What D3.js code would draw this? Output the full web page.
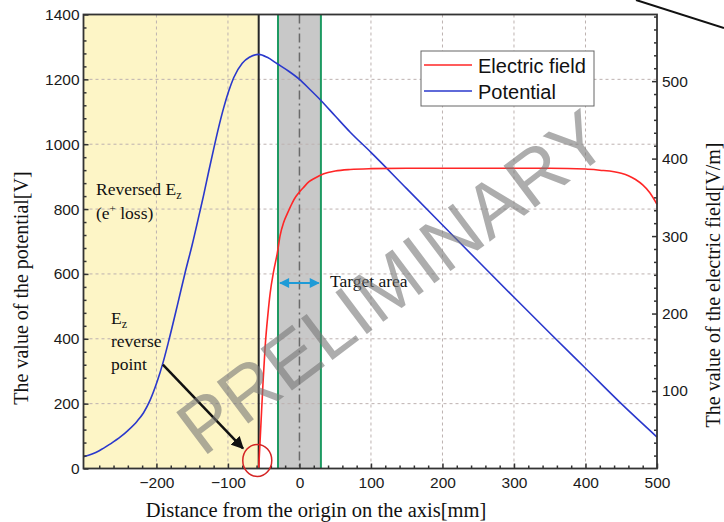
<!DOCTYPE html>
<html>
<head>
<meta charset="utf-8">
<script src="https://cdn.jsdelivr.net/npm/d3@7"></script>
<style>
  html, body { margin: 0; padding: 0; background: #fff; }
  svg { display: block; }
</style>
</head>
<body>
<svg id="chart" width="724" height="522"></svg>
<script>
// Axial distance samples [mm] and the on-axis potential [V]
const potX = [-302, -290, -280, -265, -250, -240, -227, -218, -209, -199, -191, -183, -170, -160, -150, -140, -134, -127, -120, -113, -106, -99, -92, -80, -70, -57, -45, -31, -15, 0, 15, 30, 50, 71, 100, 150, 200, 250, 300, 350, 400, 450, 500];
const potV = [36, 45, 55, 75, 98, 117, 146, 172, 210, 268, 325, 392, 510, 603, 690, 785, 843, 915, 985, 1052, 1112, 1163, 1205, 1250, 1268, 1277, 1268, 1248, 1225, 1200, 1168, 1135, 1087, 1037, 975, 863, 751, 639, 528, 418, 309, 200, 97];

// Axial distance samples [mm] and the axial electric field [V/m]
const fieldX = [-57, -54, -51, -48, -44, -41, -36, -31, -27, -22, -17, -10, -5, 0, 5, 13, 20, 34, 50, 71, 100, 150, 200, 300, 350, 400, 420, 440, 450, 460, 470, 480, 490, 500];
const fieldE = [0, 55, 110, 157, 200, 226, 255, 278, 301, 318, 329, 343, 351, 357, 362, 370, 374, 380.5, 384, 386, 387, 387.5, 387.5, 387.5, 387.5, 386.5, 385, 383, 381, 378, 373, 366, 356, 341];

// Tick values
const xTicks = [-200, -100, 0, 100, 200, 300, 400, 500];
const potTicks = [0, 200, 400, 600, 800, 1000, 1200, 1400];
const fieldTicks = [100, 200, 300, 400, 500];
const xGrid = [-200, -100, 100, 200, 300, 400];
const potGrid = [200, 400, 600, 800, 1000, 1200];

// Regions along the axis
const reversePoint = -57;      // where Ez changes sign
const targetHalfWidth = 30;    // target area is ±30 mm around the origin

const svg = d3.select("#chart");
const W = 724, H = 522;
const m = { left: 83.5, right: 67, top: 14.5, bottom: 53.5 };
const iw = W - m.left - m.right, ih = H - m.top - m.bottom;

const x = d3.scaleLinear().domain([-302, 500]).range([m.left, m.left + iw]);
const yL = d3.scaleLinear().domain([0, 1400]).range([m.top + ih, m.top]);
const yR = d3.scaleLinear().domain([0, 586]).range([m.top + ih, m.top]);

const g = svg.append("g");

// shaded regions
g.append("rect")
  .attr("x", x(-302)).attr("y", m.top)
  .attr("width", x(reversePoint) - x(-302)).attr("height", ih)
  .attr("fill", "#fdf5c6");
g.append("rect")
  .attr("x", x(-targetHalfWidth)).attr("y", m.top)
  .attr("width", x(targetHalfWidth) - x(-targetHalfWidth)).attr("height", ih)
  .attr("fill", "#c8c8c8");

// dashed grid
const gridColor = "#bdb2b0";
g.selectAll(".vgrid").data(xGrid).join("line")
  .attr("x1", d => x(d)).attr("x2", d => x(d))
  .attr("y1", m.top).attr("y2", m.top + ih)
  .attr("stroke", gridColor).attr("stroke-width", 1).attr("stroke-dasharray", "3,3");
g.selectAll(".hgrid").data(potGrid).join("line")
  .attr("x1", m.left).attr("x2", m.left + iw)
  .attr("y1", d => yL(d)).attr("y2", d => yL(d))
  .attr("stroke", gridColor).attr("stroke-width", 1).attr("stroke-dasharray", "3,3");

// origin (dash-dot), target boundaries and the reverse point
g.append("line")
  .attr("x1", x(0)).attr("x2", x(0)).attr("y1", m.top).attr("y2", m.top + ih)
  .attr("stroke", "#6a6a6a").attr("stroke-width", 1.5).attr("stroke-dasharray", "9,4,2,4");
[-targetHalfWidth, targetHalfWidth].forEach(v => {
  g.append("line")
    .attr("x1", x(v)).attr("x2", x(v)).attr("y1", m.top).attr("y2", m.top + ih)
    .attr("stroke", "#1d9a62").attr("stroke-width", 2);
});
g.append("line")
  .attr("x1", x(reversePoint)).attr("x2", x(reversePoint)).attr("y1", m.top).attr("y2", m.top + ih)
  .attr("stroke", "#262626").attr("stroke-width", 2);

// curves
const potLine = d3.line().x(d => x(d[0])).y(d => yL(d[1])).curve(d3.curveMonotoneX);
const fieldLine = d3.line().x(d => x(d[0])).y(d => yR(d[1])).curve(d3.curveMonotoneX);
g.append("path").datum(d3.zip(potX, potV)).attr("d", potLine)
  .attr("fill", "none").attr("stroke", "#2a38cc").attr("stroke-width", 1.6);
g.append("path").datum(d3.zip(fieldX, fieldE)).attr("d", fieldLine)
  .attr("fill", "none").attr("stroke", "#ff2626").attr("stroke-width", 1.6);

// axes
const axisColor = "#333";
const sans = "'Liberation Sans', Arial, sans-serif";
function styleAxis(sel) {
  sel.select(".domain").remove();
  sel.selectAll("line").attr("stroke", axisColor).attr("stroke-width", 1.5);
  sel.selectAll("text").attr("fill", "#1a1a1a")
    .style("font-family", sans).style("font-size", "15.5px");
}
const minorX = d3.range(-280, 501, 20).filter(v => v % 100 !== 0);
const minorL = d3.range(0, 1401, 40).filter(v => v % 200 !== 0);
const minorR = d3.range(0, 586, 100 / 6).filter(v => Math.abs(v / 100 - Math.round(v / 100)) > 1e-6);
const intFmt = d3.format("d");

svg.append("g").attr("transform", `translate(0,${m.top + ih})`)
  .call(d3.axisBottom(x).tickValues(xTicks).tickSize(-5).tickPadding(8)).call(styleAxis);
svg.append("g").attr("transform", `translate(0,${m.top + ih})`)
  .call(d3.axisBottom(x).tickValues(minorX).tickSize(-3).tickFormat("")).call(styleAxis);
svg.append("g").attr("transform", `translate(${m.left},0)`)
  .call(d3.axisLeft(yL).tickValues(potTicks).tickFormat(intFmt).tickSize(-5).tickPadding(4)).call(styleAxis);
svg.append("g").attr("transform", `translate(${m.left},0)`)
  .call(d3.axisLeft(yL).tickValues(minorL).tickSize(-3).tickFormat("")).call(styleAxis);
svg.append("g").attr("transform", `translate(${m.left + iw},0)`)
  .call(d3.axisRight(yR).tickValues(fieldTicks).tickFormat(intFmt).tickSize(-5).tickPadding(5)).call(styleAxis);
svg.append("g").attr("transform", `translate(${m.left + iw},0)`)
  .call(d3.axisRight(yR).tickValues(minorR).tickSize(-3).tickFormat("")).call(styleAxis);

// frame
svg.append("rect").attr("x", m.left).attr("y", m.top).attr("width", iw).attr("height", ih)
  .attr("fill", "none").attr("stroke", axisColor).attr("stroke-width", 1.8);

// axis titles
const serif = "'Liberation Serif', 'Times New Roman', serif";
svg.append("text").attr("x", 316).attr("y", 517)
  .attr("text-anchor", "middle").style("font-family", serif).style("font-size", "20.5px").attr("fill", "#111")
  .text("Distance from the origin on the axis[mm]");
svg.append("text").attr("transform", "translate(28,288) rotate(-90)")
  .attr("text-anchor", "middle").style("font-family", serif).style("font-size", "20px").attr("fill", "#111")
  .text("The value of the potential[V]");
svg.append("text").attr("transform", "translate(720,285) rotate(-90)")
  .attr("text-anchor", "middle").style("font-family", serif).style("font-size", "20px").attr("fill", "#111")
  .text("The value of the electric field[V/m]");

// legend
const lg = svg.append("g");
lg.append("rect").attr("x", 421).attr("y", 51).attr("width", 173).attr("height", 55)
  .attr("fill", "#fff").attr("stroke", "#666").attr("stroke-width", 1);
const legendItems = [
  { label: "Electric field", color: "#ff2626", y: 65 },
  { label: "Potential", color: "#2a38cc", y: 91 }
];
legendItems.forEach(it => {
  lg.append("line").attr("x1", 424).attr("x2", 472).attr("y1", it.y).attr("y2", it.y)
    .attr("stroke", it.color).attr("stroke-width", 1.6);
  lg.append("text").attr("x", 478).attr("y", it.y + 7.5)
    .style("font-family", sans).style("font-size", "20px").attr("fill", "#111")
    .text(it.label);
});

// annotations
const ann = svg.append("g").style("font-family", serif).style("font-size", "17.5px").attr("fill", "#111");
const t1 = ann.append("text").attr("x", 96).attr("y", 195);
t1.append("tspan").text("Reversed E");
t1.append("tspan").attr("dy", 4).style("font-size", "12px").text("z");
const t2 = ann.append("text").attr("x", 96).attr("y", 219);
t2.append("tspan").text("(e");
t2.append("tspan").attr("dy", -7).style("font-size", "11px").text("+");
t2.append("tspan").attr("dy", 7).text(" loss)");
const t3 = ann.append("text").attr("x", 111).attr("y", 324);
t3.append("tspan").text("E");
t3.append("tspan").attr("dy", 4).style("font-size", "12px").text("z");
ann.append("text").attr("x", 111).attr("y", 347).text("reverse");
ann.append("text").attr("x", 111).attr("y", 370).text("point");
ann.append("text").attr("x", 330).attr("y", 287).text("Target area");

// arrow from the label to the reverse point
const defs = svg.append("defs");
defs.append("marker").attr("id", "blackHead").attr("viewBox", "0 0 10 10")
  .attr("refX", 9).attr("refY", 5).attr("markerWidth", 5).attr("markerHeight", 5)
  .attr("orient", "auto").attr("markerUnits", "strokeWidth")
  .append("path").attr("d", "M0,0 L10,5 L0,10 z").attr("fill", "#111");
defs.append("marker").attr("id", "blueHead").attr("viewBox", "0 0 10 10")
  .attr("refX", 9).attr("refY", 5).attr("markerWidth", 5.5).attr("markerHeight", 5)
  .attr("orient", "auto-start-reverse").attr("markerUnits", "strokeWidth")
  .append("path").attr("d", "M0,0 L10,5 L0,10 z").attr("fill", "#1e9bd7");

svg.append("line")
  .attr("x1", x(-191)).attr("y1", yL(320)).attr("x2", x(-79)).attr("y2", yL(62))
  .attr("stroke", "#111").attr("stroke-width", 2.5).attr("marker-end", "url(#blackHead)");

// red circle around the reverse point
svg.append("ellipse").attr("cx", x(-59)).attr("cy", yL(25)).attr("rx", 14.5).attr("ry", 16)
  .attr("fill", "none").attr("stroke", "#d42525").attr("stroke-width", 1.5);

// target-area span arrow
svg.append("line")
  .attr("x1", x(-27)).attr("x2", x(27)).attr("y1", yL(572)).attr("y2", yL(572))
  .attr("stroke", "#1e9bd7").attr("stroke-width", 2)
  .attr("marker-start", "url(#blueHead)").attr("marker-end", "url(#blueHead)");

// watermark
svg.append("text").attr("transform", "translate(392,282) rotate(-37)")
  .attr("text-anchor", "middle").attr("dominant-baseline", "central")
  .style("font-family", sans).style("font-size", "76px")
  .attr("fill", "#777").attr("opacity", 0.6)
  .text("PRELIMINARY");

// pointer line at top right
svg.append("line").attr("x1", 636).attr("y1", 0).attr("x2", 724).attr("y2", 28)
  .attr("stroke", "#111").attr("stroke-width", 2);
</script>
</body>
</html>
